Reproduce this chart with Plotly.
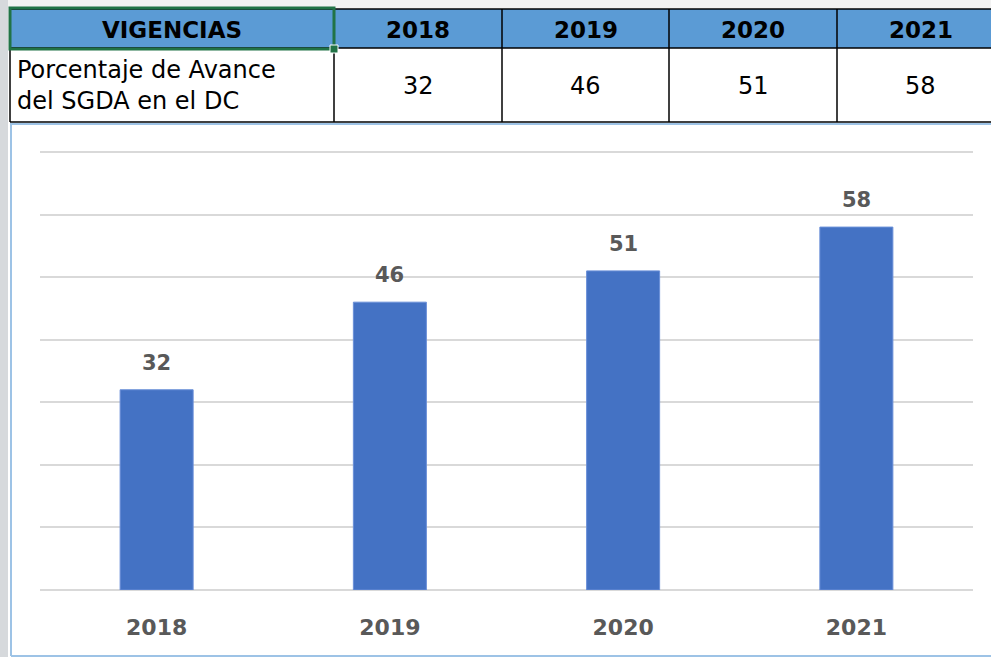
import plotly.graph_objects as go

# ---- data ----
years = ["2018", "2019", "2020", "2021"]
values = [32, 46, 51, 58]
header_label = "VIGENCIAS"
row_label = "Porcentaje de Avance<br>del SGDA en el DC"

W, H = 991, 657


def px(x):
    return x / W


def py(y):
    return 1 - y / H


FONT = "DejaVu Sans"
BLUE_BAR = "#4472C4"
HEADER_FILL = "#5B9BD5"
LABEL_GRAY = "#595959"

# y scale: baseline at 590px, 70 units at 152px
Y_MAX = 70.5
Y_BASE_PX = 590
PX_PER_UNIT = (590 - 152) / 70
Y_TOP_PX = Y_BASE_PX - Y_MAX * PX_PER_UNIT

fig = go.Figure()

fig.add_trace(go.Bar(
    x=years, y=values,
    marker=dict(color=BLUE_BAR, line=dict(color="#6A8FD8", width=1)),
    hoverinfo="x+y",
    showlegend=False,
))

shapes = []
annotations = []

# background pieces (spreadsheet surroundings)
shapes.append(dict(type="rect", xref="paper", yref="paper", x0=px(0), x1=px(8), y0=py(H), y1=py(0),
                   fillcolor="#D6D9DC", line=dict(width=0), layer="below"))
shapes.append(dict(type="rect", xref="paper", yref="paper", x0=px(8), x1=px(W), y0=py(8), y1=py(0),
                   fillcolor="#F2F2F2", line=dict(width=0), layer="below"))
# chart frame (light blue)
shapes.append(dict(type="line", xref="paper", yref="paper", x0=px(11), x1=px(11), y0=py(123), y1=py(656),
                   line=dict(color="#9DC3E6", width=2)))
shapes.append(dict(type="line", xref="paper", yref="paper", x0=px(11), x1=px(W), y0=py(656), y1=py(656),
                   line=dict(color="#9DC3E6", width=2)))
shapes.append(dict(type="line", xref="paper", yref="paper", x0=px(11), x1=px(W), y0=py(124), y1=py(124),
                   line=dict(color="#9DC3E6", width=2)))

# ---- table ----
col_edges = [10, 334, 502, 669, 837, 1010]
row_top, row_mid, row_bot = 9, 48, 122

shapes.append(dict(type="rect", xref="paper", yref="paper", x0=px(col_edges[0]), x1=px(col_edges[-1]),
                   y0=py(row_mid), y1=py(row_top), fillcolor=HEADER_FILL, line=dict(width=0)))
shapes.append(dict(type="rect", xref="paper", yref="paper", x0=px(col_edges[0]), x1=px(col_edges[-1]),
                   y0=py(row_bot), y1=py(row_mid), fillcolor="white", line=dict(width=0)))
for yy in (row_top, row_mid, row_bot):
    shapes.append(dict(type="line", xref="paper", yref="paper", x0=px(col_edges[0]), x1=px(col_edges[-1]),
                       y0=py(yy), y1=py(yy), line=dict(color="black", width=1.5)))
for xx in col_edges[:-1]:
    shapes.append(dict(type="line", xref="paper", yref="paper", x0=px(xx), x1=px(xx),
                       y0=py(row_bot), y1=py(row_top), line=dict(color="black", width=1.5)))

header_cells = [header_label] + years
for i, t in enumerate(header_cells):
    right = col_edges[i + 1] if i < 4 else 1004
    cx = (col_edges[i] + right) / 2
    annotations.append(dict(x=px(cx), y=py((row_top + row_mid) / 2 + 1.5), xref="paper", yref="paper",
                            text=f"<b>{t}</b>", showarrow=False, xanchor="center", yanchor="middle",
                            font=dict(family=FONT, size=23, color="black")))
annotations.append(dict(x=px(15), y=py((row_mid + row_bot) / 2), xref="paper", yref="paper",
                        text=row_label, showarrow=False, xanchor="left", yanchor="middle", align="left",
                        font=dict(family=FONT, size=24, color="black")))
for i, v in enumerate(values):
    right = col_edges[i + 2] if i < 3 else 1004
    cx = (col_edges[i + 1] + right) / 2
    annotations.append(dict(x=px(cx), y=py((row_mid + row_bot) / 2 + 1), xref="paper", yref="paper",
                            text=str(v), showarrow=False, xanchor="center", yanchor="middle",
                            font=dict(family=FONT, size=24, color="black")))

# selection box (green) on the first header cell
shapes.append(dict(type="rect", xref="paper", yref="paper", x0=px(10), x1=px(334), y0=py(49), y1=py(8),
                   line=dict(color="#217346", width=3), fillcolor="rgba(0,0,0,0)"))
shapes.append(dict(type="rect", xref="paper", yref="paper", x0=px(330), x1=px(338), y0=py(53), y1=py(45),
                   line=dict(color="white", width=1), fillcolor="#217346"))

# ---- data labels over bars (category index positions) ----
for i, v in enumerate(values):
    annotations.append(dict(x=i, y=v, xref="x", yref="y", text=f"<b>{v}</b>", showarrow=False,
                            yanchor="middle", yshift=27,
                            font=dict(family=FONT, size=21, color=LABEL_GRAY)))

fig.update_layout(
    width=W, height=H,
    margin=dict(l=0, r=0, t=0, b=0, autoexpand=False),
    paper_bgcolor="white", plot_bgcolor="white",
    bargap=0.687,
    shapes=shapes,
    annotations=annotations,
    xaxis=dict(type="category", categoryorder="array", categoryarray=years,
               range=[-0.5, len(years) - 0.5], autorange=False,
               domain=[px(40), px(973)], showgrid=False, zeroline=False, showline=False,
               ticks="outside", ticklen=18, tickcolor="rgba(0,0,0,0)", automargin=False,
               tickfont=dict(family=FONT, size=22, color=LABEL_GRAY, weight="bold"), fixedrange=True),
    yaxis=dict(domain=[py(Y_BASE_PX), py(Y_TOP_PX)], range=[0, Y_MAX], autorange=False, dtick=10,
               showgrid=True, gridcolor="#D9D9D9", gridwidth=2, zeroline=True, zerolinecolor="#D9D9D9",
               zerolinewidth=2, showticklabels=False, showline=False, fixedrange=True, automargin=False),
)

fig.write_html(
    "out.html",
    config={"displayModeBar": False},
    post_script="document.body.style.margin='0';document.body.style.overflow='hidden';",
)
